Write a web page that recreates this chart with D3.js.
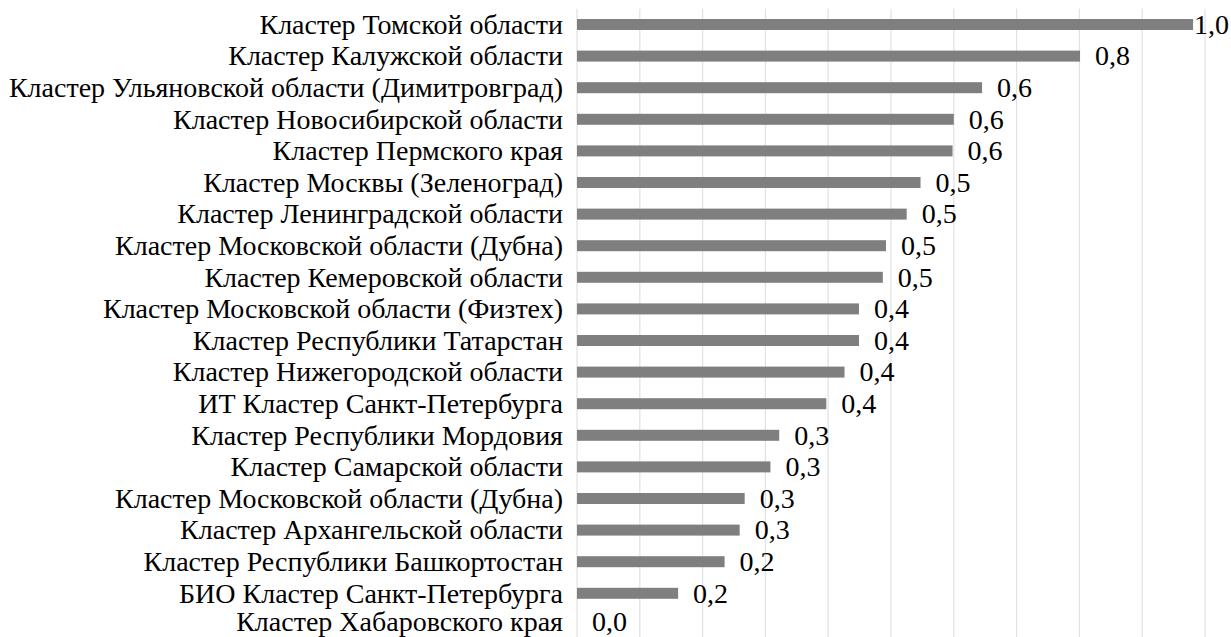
<!DOCTYPE html>
<html>
<head>
<meta charset="utf-8">
<script src="https://cdn.jsdelivr.net/npm/d3@7"></script>
</head>
<body>
<svg id="chart" width="1231" height="637" font-family="Liberation Serif, Times New Roman, serif"></svg>
<script>
// Cluster names, top to bottom
const categories = [
  "Кластер Томской области",
  "Кластер Калужской области",
  "Кластер Ульяновской области (Димитровград)",
  "Кластер Новосибирской области",
  "Кластер Пермского края",
  "Кластер Москвы (Зеленоград)",
  "Кластер Ленинградской области",
  "Кластер Московской области (Дубна)",
  "Кластер Кемеровской области",
  "Кластер Московской области (Физтех)",
  "Кластер Республики Татарстан",
  "Кластер Нижегородской области",
  "ИТ Кластер Санкт-Петербурга",
  "Кластер Республики Мордовия",
  "Кластер Самарской области",
  "Кластер Московской области (Дубна)",
  "Кластер Архангельской области",
  "Кластер Республики Башкортостан",
  "БИО Кластер Санкт-Петербурга",
  "Кластер Хабаровского края"
];

// Index value per cluster
const values = [
  0.981, 0.801, 0.645, 0.600, 0.598, 0.547, 0.525, 0.492, 0.487, 0.449,
  0.449, 0.426, 0.397, 0.322, 0.308, 0.267, 0.259, 0.235, 0.161, 0.0
];

// Vertical gridline positions
const gridTicks = [0, 0.1, 0.2, 0.3, 0.4, 0.5, 0.6, 0.7, 0.8, 0.9, 1.0];

const rows = categories.map((c, i) => ({ id: i, name: c, value: values[i] }));

d3.select("body").style("margin", "0").style("background", "#fff");
const svg = d3.select("#chart")
  .style("display", "block")
  .style("position", "absolute")
  .style("left", "0px")
  .style("top", "0px");

const W = 1231;
const margin = { top: 8.7, left: 577, right: 26 };
const plotRight = W - margin.right;
const rowStep = 31.6;
const plotBottom = margin.top + rowStep * categories.length;

const x = d3.scaleLinear().domain([0, 1.0]).range([margin.left, plotRight]);
const y = d3.scaleBand()
  .domain(rows.map(d => d.id))
  .range([margin.top, plotBottom])
  .paddingInner(0.652)
  .paddingOuter(0.326);

// gridlines
svg.append("g")
  .selectAll("line")
  .data(gridTicks)
  .join("line")
  .attr("x1", d => x(d)).attr("x2", d => x(d))
  .attr("y1", margin.top).attr("y2", plotBottom)
  .attr("stroke", "#e3e3e3")
  .attr("stroke-width", 1.3);

// bars
svg.append("g")
  .selectAll("rect")
  .data(rows)
  .join("rect")
  .attr("x", x(0))
  .attr("y", d => y(d.id))
  .attr("width", d => x(d.value) - x(0))
  .attr("height", y.bandwidth())
  .attr("fill", "#7f7f7f");

const fontSize = 28;
const labelFont = "'Liberation Serif', 'Times New Roman', serif";
// keep the last row's label inside the canvas
const labelY = d => Math.min(y(d.id) + y.bandwidth() / 2, 622);

// category labels
svg.append("g")
  .selectAll("text")
  .data(rows)
  .join("text")
  .style("font-family", labelFont)
  .attr("font-size", fontSize)
  .attr("x", margin.left - 14)
  .attr("y", labelY)
  .attr("dy", "0.33em")
  .attr("text-anchor", "end")
  .text(d => d.name);

// value labels
const fmt = v => d3.format(".1f")(v).replace(".", ",");
svg.append("g")
  .selectAll("text")
  .data(rows)
  .join("text")
  .style("font-family", labelFont)
  .attr("font-size", fontSize)
  .attr("y", labelY)
  .attr("dy", "0.33em")
  .text(d => fmt(d.value))
  .attr("x", function(d) {
    const w = this.getComputedTextLength();
    return Math.min(x(d.value) + 15, W - 2 - w);
  });
</script>
</body>
</html>
